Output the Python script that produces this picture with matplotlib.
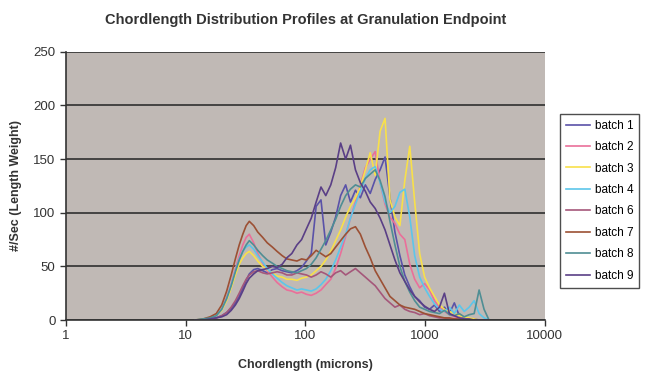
import numpy as np
import matplotlib.pyplot as plt
from matplotlib.ticker import FixedLocator, NullLocator, FixedFormatter

plt.rcParams["font.family"] = ["Liberation Sans", "DejaVu Sans"]

# chord length grid (microns)
chord = [12, 14, 16, 18, 20, 22, 24, 26, 28, 30, 32, 34, 37, 40, 44, 48, 53, 58, 64, 70,
         77, 85, 93, 102, 112, 123, 135, 148, 163, 179, 197, 217, 238, 262, 288, 317, 348, 383, 421, 463,
         509, 560, 616, 677, 745, 819, 901, 991, 1090, 1199, 1319, 1451, 1596, 1756, 1931, 2124, 2337, 2570, 2827, 3110,
         3421]

batch1 = [0, 0, 1, 2, 4, 7, 11, 16, 22, 30, 37, 43, 47, 48, 46, 44, 47, 48, 46, 45,
          44, 46, 49, 55, 62, 106, 112, 70, 82, 96, 116, 126, 110, 121, 114, 126, 118, 131, 140, 152,
          114, 82, 60, 42, 31, 22, 18, 12, 10, 14, 8, 12, 6, 16, 4, 2, 1, 1, 0, 0,
          0]
batch2 = [0, 1, 2, 4, 10, 21, 34, 48, 60, 70, 77, 80, 72, 62, 53, 46, 40, 35, 31, 28,
          27, 25, 26, 24, 23, 25, 28, 33, 38, 48, 62, 78, 95, 110, 126, 142, 150, 157, 128, 108,
          96, 90, 80, 75, 52, 38, 30, 34, 28, 18, 12, 8, 5, 3, 2, 1, 1, 0, 0, 0,
          0]
batch3 = [0, 1, 2, 4, 9, 18, 30, 42, 52, 58, 62, 64, 60, 55, 50, 47, 44, 41, 40, 38,
          38, 37, 39, 40, 42, 46, 50, 56, 64, 74, 84, 96, 106, 114, 124, 140, 156, 135, 176, 188,
          112, 96, 88, 130, 162, 110, 62, 40, 30, 22, 14, 10, 8, 6, 4, 3, 2, 1, 0, 0,
          0]
batch4 = [0, 1, 2, 4, 10, 20, 33, 46, 57, 64, 68, 70, 66, 60, 54, 48, 43, 39, 35, 32,
          30, 28, 29, 28, 27, 29, 33, 38, 46, 56, 68, 80, 95, 108, 120, 132, 140, 143, 128, 110,
          100, 106, 119, 122, 96, 60, 40, 30, 22, 15, 10, 8, 12, 6, 14, 8, 12, 18, 6, 2,
          0]
batch6 = [0, 0, 1, 2, 4, 7, 12, 18, 25, 32, 38, 42, 45, 46, 44, 43, 44, 45, 44, 42,
          42, 44, 43, 42, 40, 42, 45, 43, 40, 44, 46, 42, 45, 48, 44, 40, 36, 32, 26, 20,
          16, 12, 14, 10, 8, 7, 5, 6, 4, 3, 2, 2, 1, 1, 0, 0, 0, 0, 0, 0,
          0]
batch7 = [0, 1, 3, 6, 14, 27, 42, 57, 70, 80, 88, 92, 88, 82, 77, 72, 68, 64, 60, 57,
          56, 55, 57, 56, 60, 65, 62, 59, 62, 68, 74, 80, 85, 87, 80, 68, 58, 46, 38, 30,
          22, 18, 14, 12, 11, 10, 8, 6, 5, 4, 3, 2, 2, 1, 1, 0, 0, 0, 0, 0,
          0]
batch8 = [0, 1, 2, 4, 10, 20, 32, 45, 56, 64, 70, 74, 70, 65, 60, 56, 53, 50, 48, 46,
          45, 44, 46, 48, 52, 58, 66, 74, 84, 94, 106, 116, 122, 126, 124, 132, 136, 140, 130, 115,
          92, 70, 50, 36, 26, 18, 12, 10, 8, 7, 6, 9, 5, 4, 6, 3, 5, 6, 28, 10,
          0]
batch9 = [0, 0, 1, 2, 3, 5, 9, 14, 20, 27, 34, 39, 43, 46, 47, 48, 50, 49, 52, 58,
          62, 70, 75, 85, 95, 110, 124, 116, 126, 142, 165, 150, 163, 140, 128, 120, 110, 104, 95, 84,
          70, 56, 44, 36, 28, 22, 17, 13, 10, 8, 12, 25, 6, 4, 2, 1, 1, 0, 0, 0,
          0]

labels = ["batch 1", "batch 2", "batch 3", "batch 4", "batch 6", "batch 7", "batch 8", "batch 9"]
series = [batch1, batch2, batch3, batch4, batch6, batch7, batch8, batch9]
colors = ["#5a52a8", "#ea6f9a", "#f8e04a", "#5cc6ea", "#a5577a", "#9c5034", "#4f8e94", "#5a3f86"]

fig = plt.figure(figsize=(6.47, 3.73), dpi=100)
ax = fig.add_axes([0.102, 0.142, 0.740, 0.719])
ax.set_facecolor("#c0b9b5")

for lab, vals, col in zip(labels, series, colors):
    ax.plot(chord, vals, color=col, lw=1.2, label=lab)

ax.set_xscale("log")
ax.set_xlim(1, 10000)
ax.set_ylim(0, 250)
ax.xaxis.set_major_locator(FixedLocator([1, 10, 100, 1000, 10000]))
ax.xaxis.set_major_formatter(FixedFormatter(["1", "10", "100", "1000", "10000"]))
ax.xaxis.set_minor_locator(NullLocator())
ax.set_yticks([0, 50, 100, 150, 200, 250])

ax.yaxis.grid(True, color="#3a3a3a", lw=1.3)
ax.set_axisbelow(True)
for s in ["top", "right"]:
    ax.spines[s].set_visible(False)
for s in ["left", "bottom"]:
    ax.spines[s].set_color("#333333")
    ax.spines[s].set_linewidth(1.2)
ax.tick_params(colors="#333333", labelsize=9.5, length=4, width=1)

ax.set_title("Chordlength Distribution Profiles at Granulation Endpoint",
             fontsize=10.5, fontweight="bold", color="#333333", pad=20)
ax.set_xlabel("Chordlength (microns)", fontsize=9, fontweight="bold", color="#333333", labelpad=12)
ax.set_ylabel("#/Sec (Length Weight)", fontsize=9, fontweight="bold", color="#333333", labelpad=8)

leg = fig.legend(loc="upper left", bbox_to_anchor=(0.866, 0.695), fontsize=8.5,
                 labelspacing=0.8, handlelength=2.0, handletextpad=0.4,
                 frameon=True, fancybox=False, borderpad=0.5, borderaxespad=0.0)
leg.get_frame().set_edgecolor("#222222")
leg.get_frame().set_linewidth(1.0)

plt.savefig("out.png", dpi=100)
